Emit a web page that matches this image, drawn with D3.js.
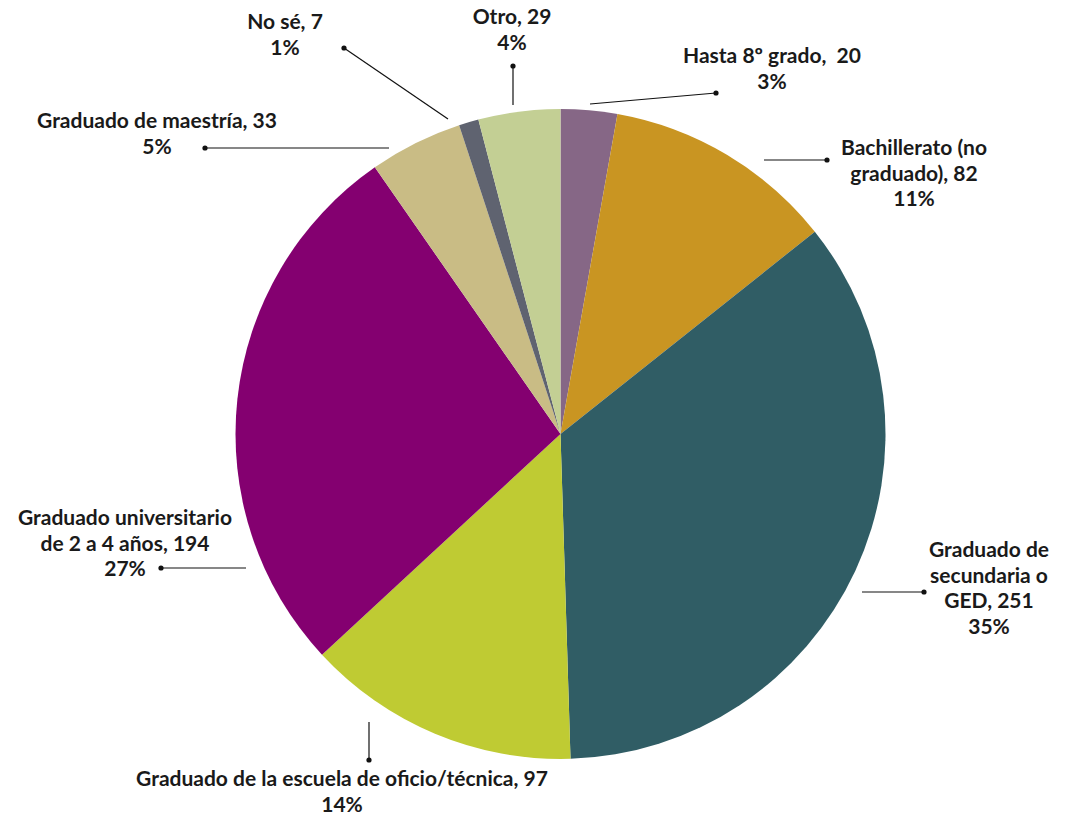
<!DOCTYPE html>
<html><head><meta charset="utf-8">
<script src="https://cdn.jsdelivr.net/npm/d3@7"></script>
<style>html,body{margin:0;padding:0;background:#fff;}svg{display:block;}text{white-space:pre;}</style>
</head><body>
<svg id="chart" width="1066" height="816"></svg>
<script>
const categories = ["Hasta 8º grado", "Bachillerato (no graduado)", "Graduado de secundaria o GED", "Graduado de la escuela de oficio/técnica", "Graduado universitario de 2 a 4 años", "Graduado de maestría", "No sé", "Otro"];
const values = [20, 82, 251, 97, 194, 33, 7, 29];
const percentLabels = ["3%", "11%", "35%", "14%", "27%", "5%", "1%", "4%"];
const labelLines = [
  ["Hasta 8º grado,  20", "3%"],
  ["Bachillerato (no", "graduado), 82", "11%"],
  ["Graduado de", "secundaria o", "GED, 251", "35%"],
  ["Graduado de la escuela de oficio/técnica, 97", "14%"],
  ["Graduado universitario", "de 2 a 4 años, 194", "27%"],
  ["Graduado de maestría, 33", "5%"],
  ["No sé, 7", "1%"],
  ["Otro, 29", "4%"]
];
const colors = ["#866786", "#c99522", "#305d65", "#bfcb33", "#840070", "#c9bc85", "#5f6370", "#c3cf94"];

// layout (label text centre x, first baseline y; leader from -> to (dot))
const layout = [
  {tx: 772, ty: 63, from: [590, 104], to: [716, 93]},
  {tx: 914, ty: 155, from: [764, 160], to: [827, 160]},
  {tx: 989, ty: 557, from: [862, 592], to: [924, 592]},
  {tx: 342, ty: 786, from: [369, 722], to: [369, 760]},
  {tx: 125, ty: 525, from: [246, 568], to: [161, 568]},
  {tx: 157, ty: 128, from: [389, 148], to: [205, 148]},
  {tx: 285, ty: 29, from: [448, 119], to: [344, 48]},
  {tx: 512, ty: 24, from: [513, 105], to: [513, 66]}
];

const cx = 560.5, cy = 434, R = 325;
const svg = d3.select("#chart");
const g = svg.append("g").attr("transform", `translate(${cx},${cy})`);

const data = categories.map((c, i) => ({name: c, value: values[i], i}));
const pie = d3.pie().value(d => d.value).sort(null);
const arc = d3.arc().innerRadius(0).outerRadius(R);
const color = d3.scaleOrdinal().domain(categories).range(colors);

g.selectAll("path.slice").data(pie(data)).join("path")
  .attr("class", "slice")
  .attr("d", arc)
  .attr("fill", d => color(d.data.name));

const lab = svg.append("g");
data.forEach((d, i) => {
  const L = layout[i];
  lab.append("line")
    .attr("x1", L.from[0]).attr("y1", L.from[1])
    .attr("x2", L.to[0]).attr("y2", L.to[1])
    .attr("stroke", "#111").attr("stroke-width", 1.2);
  lab.append("circle").attr("cx", L.to[0]).attr("cy", L.to[1]).attr("r", 2.6).attr("fill", "#111");
  const t = lab.append("text")
    .attr("x", L.tx).attr("y", L.ty)
    .attr("text-anchor", "middle")
    .attr("font-family", "Lato, 'Open Sans', sans-serif")
    .attr("font-weight", "bold")
    .attr("font-size", 21)
    .attr("fill", "#1a1a1a");
  labelLines[i].forEach((line, k) => {
    t.append("tspan").attr("x", L.tx).attr("dy", k === 0 ? 0 : 25.5).text(line);
  });
});
</script>
</body></html>
